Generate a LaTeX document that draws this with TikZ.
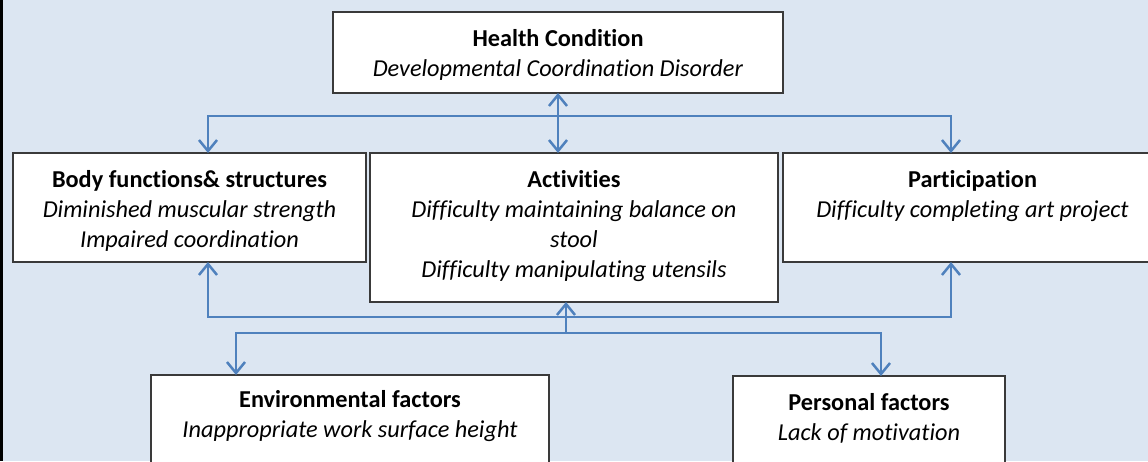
\documentclass[tikz,border=0pt]{standalone}
\usepackage{fontspec}
\setmainfont{Carlito}[Ligatures=NoCommon]
\usetikzlibrary{arrows.meta}
\definecolor{bgblue}{HTML}{DCE6F2}
\definecolor{arrblue}{HTML}{4F81BD}
\definecolor{boxline}{HTML}{3A3A3A}
\tikzset{
  box/.style={draw=boxline, line width=1.5pt, fill=white, rectangle, inner sep=0pt, outer sep=0pt},
  txt/.style={align=center, font=\fontsize{24.3}{30}\selectfont, inner sep=0pt},
  conn/.style={draw=arrblue, line width=2.5pt, arrows={-}, >={Straight Barb[length=11pt,width=18pt,line width=2.5pt]}}
}
\begin{document}
\begin{tikzpicture}[x=1pt,y=-1pt]
\useasboundingbox (0,0) rectangle (1148,461);
\clip (0,0) rectangle (1148,461);
\fill[bgblue] (0,0) rectangle (1148,461);
\draw[black, line width=3pt] (1.5,0) -- (1.5,461);

% boxes
\node[box, minimum width=450pt, minimum height=81pt] (hc) at (558,52.5) {};
\node[box, minimum width=353pt, minimum height=109pt] (body) at (189.5,207.5) {};
\node[box, minimum width=408pt, minimum height=149pt] (act) at (574,227.5) {};
\node[box, minimum width=379pt, minimum height=109pt] (part) at (972.5,207.5) {};
\node[box, minimum width=398pt, minimum height=105pt] (env) at (350,427.5) {};
\node[box, minimum width=272pt, minimum height=104pt] (pers) at (869,428) {};

% texts
\node[txt] (hct) at (558,55) {\textbf{Health Condition}\\\textit{Developmental Coordination Disorder}};
\node[txt] (bodyt) at (189.5,211) {\textbf{Body functions\& structures}\\\textit{Diminished muscular strength}\\\textit{Impaired coordination}};
\node[txt] (actt) at (574,226) {\textbf{Activities}\\\textit{Difficulty maintaining balance on}\\\textit{stool}\\\textit{Difficulty manipulating utensils}};
\node[txt] (partt) at (972.5,196) {\textbf{Participation}\\\textit{Difficulty completing art project}};
\node[txt] (envt) at (350,416) {\textbf{Environmental factors}\\\textit{Inappropriate work surface height}};
\node[txt] (perst) at (869,418.5) {\textbf{Personal factors}\\\textit{Lack of motivation}};

% helper coordinates
\coordinate (bx) at (208,0);
\coordinate (px) at (951,0);
\coordinate (ax) at (566,0);
\coordinate (ex) at (236,0);
\coordinate (fx) at (881,0);
\coordinate (tb) at (0,116);
\coordinate (lb) at (0,317);
\coordinate (eb) at (0,333);

% connectors
\draw[conn,<->] (body.north -| bx) |- (tb -| px) -- (part.north -| px);
\draw[conn,<->] (hc.south) -- (hc.south |- act.north);
\draw[conn,<->] (body.south -| bx) |- (lb -| px) -- (part.south -| px);
\draw[conn,->] (eb -| ax) -- (act.south -| ax);
\draw[conn,<->] (env.north -| ex) |- (eb -| fx) -- (pers.north -| fx);
\end{tikzpicture}
\end{document}
